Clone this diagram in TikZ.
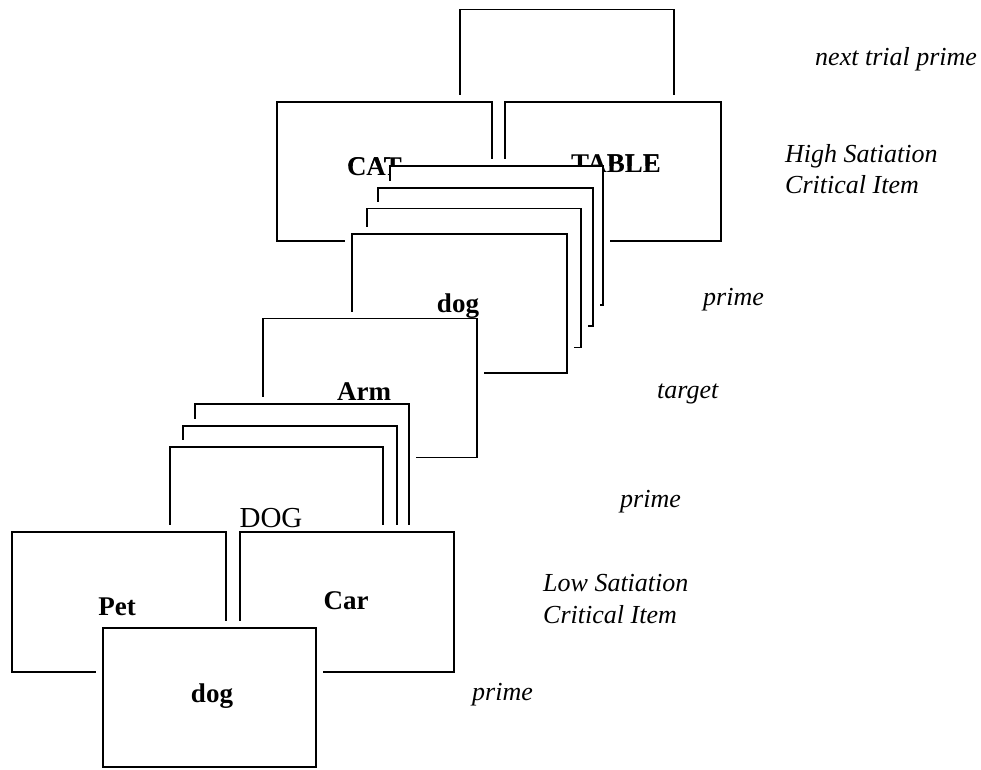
\documentclass[tikz,border=0pt]{standalone}
\usepackage{fontspec}
\setmainfont{Liberation Serif}
\begin{document}
\begin{tikzpicture}[x=1pt,y=-1pt,
  card/.style={rectangle, draw=black, fill=white, line width=1.8pt,
    minimum width=214pt, minimum height=139pt, inner sep=0pt, outer sep=0pt,
    preaction={draw=white, line width=14pt}},
  word/.style={font=\fontsize{27}{30}\selectfont\bfseries, inner sep=0pt, anchor=base},
  plainword/.style={font=\fontsize{29}{32}\selectfont, inner sep=0pt, anchor=base},
  note/.style={font=\fontsize{26}{30}\selectfont\itshape, inner sep=0pt, anchor=base west}]
\useasboundingbox (0,0) rectangle (981,769);
\fill[white] (0,0) rectangle (981,769);
% back to front
\node[card] (next) at (567,79) {};
\node[card, minimum width=215pt] (cat) at (384.5,171.5) {};
\node[card, minimum width=216pt] (table) at (613,171.5) {};
\node[card, minimum width=213pt] (c1) at (496.5,235.5) {};
\node[card, minimum width=215pt, minimum height=138pt] (c2) at (485.5,257) {};
\node[card] (c3) at (474,278) {};
\node[card, minimum width=215pt] (c4) at (459.5,303.5) {};
\node[card] (arm) at (370,388) {};
\node[card] (ca) at (302,473.5) {};
\node[card] (cb) at (290,495.5) {};
\node[card, minimum width=213pt] (cc) at (276.5,516.5) {};
\node[card, minimum height=140pt] (pet) at (119,602) {};
\node[card, minimum height=140pt] (car) at (347,602) {};
\node[card, minimum width=213pt] (front) at (209.5,697.5) {};
% partly hidden words behind the stack: visible outside card c1
\begin{scope}
  \clip (0,0) rectangle (389,769);
  \node[word] (tcat) at (374.5,175) {CAT};
\end{scope}
\begin{scope}
  \clip (0,0) rectangle (981,165);
  \node[word] (tcatb) at (374.5,175) {CAT};
  \node[word] (ttable) at (616,172) {TABLE};
\end{scope}
\begin{scope}
  \clip (604,0) rectangle (981,769);
  \node[word] (ttableb) at (616,172) {TABLE};
\end{scope}
\node[word] (tdog1) at (458,312) {dog};
\node[word] (tarm) at (364,400) {Arm};
\node[plainword] (tDOG) at (271,527) {DOG};
\node[word] (tpet) at (117,615) {Pet};
\node[word] (tcar) at (346,609) {Car};
\node[word] (tdog2) at (212,702) {dog};
% side notes
\node[note] (n1) at (815,65) {next trial prime};
\node[note] (n2) at (785,162) {High Satiation};
\node[note] (n3) at (785,193) {Critical Item};
\node[note] (n4) at (703,305) {prime};
\node[note] (n5) at (657,398) {target};
\node[note] (n6) at (620,507) {prime};
\node[note] (n7) at (543,591) {Low Satiation};
\node[note] (n8) at (543,623) {Critical Item};
\node[note] (n9) at (472,700) {prime};
\end{tikzpicture}
\end{document}
